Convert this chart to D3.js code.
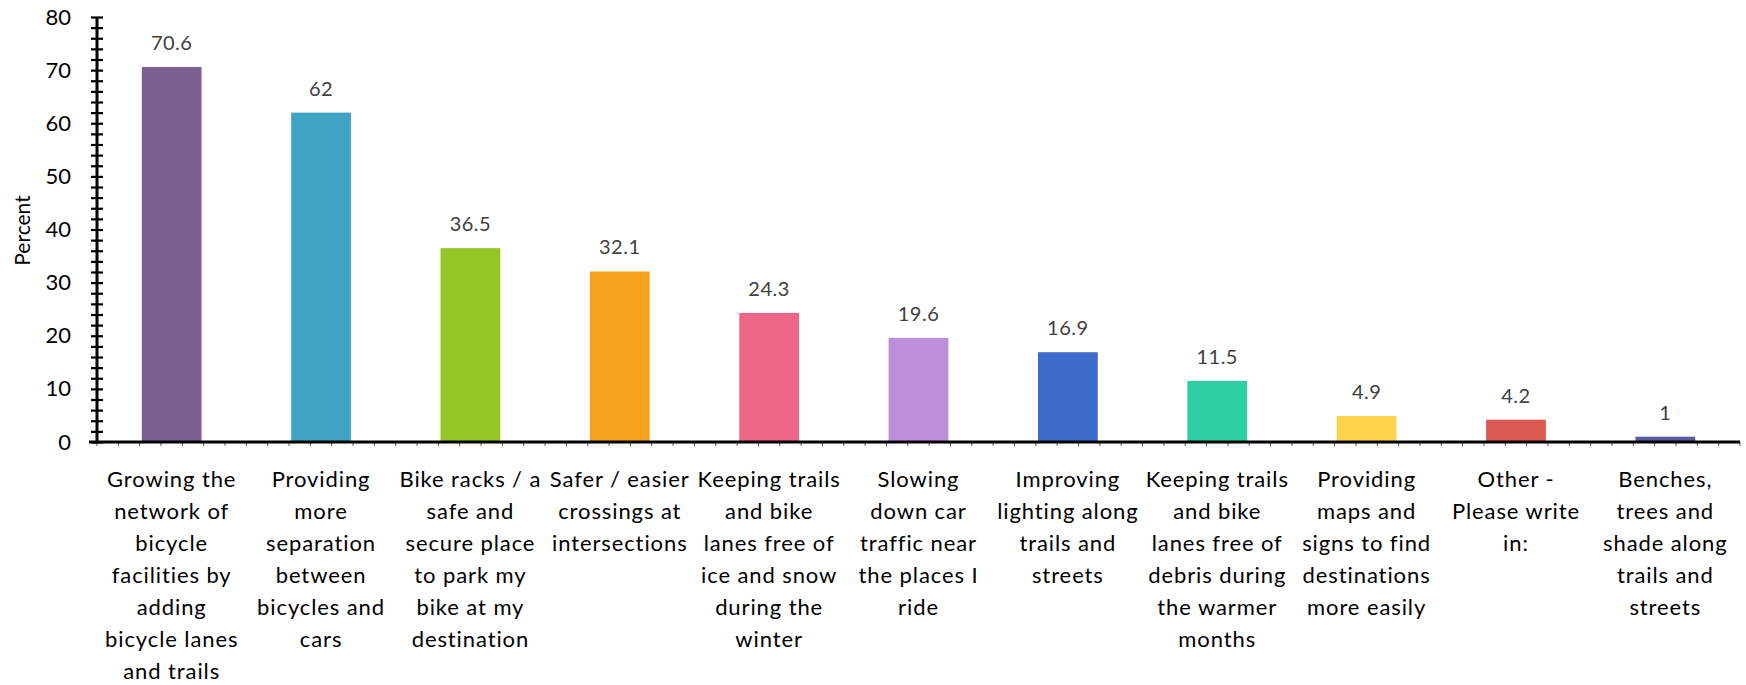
<!DOCTYPE html>
<html>
<head>
<meta charset="utf-8">
<script src="https://cdn.jsdelivr.net/npm/d3@7"></script>
<style>
  body { margin: 0; background: #fff; }
  svg { display: block; font-family: Lato, "Open Sans", sans-serif; }
</style>
</head>
<body>
<div id="chart"></div>
<script>
// data
const categories = [
    "Growing the|network of|bicycle|facilities by|adding|bicycle lanes|and trails",
    "Providing|more|separation|between|bicycles and|cars",
    "Bike racks / a|safe and|secure place|to park my|bike at my|destination",
    "Safer / easier|crossings at|intersections",
    "Keeping trails|and bike|lanes free of|ice and snow|during the|winter",
    "Slowing|down car|traffic near|the places I|ride",
    "Improving|lighting along|trails and|streets",
    "Keeping trails|and bike|lanes free of|debris during|the warmer|months",
    "Providing|maps and|signs to find|destinations|more easily",
    "Other -|Please write|in:",
    "Benches,|trees and|shade along|trails and|streets"
];
const values = [70.6, 62, 36.5, 32.1, 24.3, 19.6, 16.9, 11.5, 4.9, 4.2, 1];
const colors = ["#7b6190", "#3fa3c4", "#95c727", "#f4a21c", "#ef6585", "#bb8fda",
                "#3c6bcb", "#2bcfa3", "#fcd34a", "#dc5a52", "#5b5ea0"];
const yTicks = [0, 10, 20, 30, 40, 50, 60, 70, 80];

const width = 1746, height = 685;
const margin = {top: 17, right: 6, bottom: 243, left: 97};

const svg = d3.select("#chart")
    .append("svg")
    .attr("width", width)
    .attr("height", height);

const x = d3.scaleBand()
    .domain(d3.range(categories.length))
    .range([margin.left, width - margin.right])
    .paddingInner(0.6)
    .paddingOuter(0.3);

const y = d3.scaleLinear()
    .domain([0, 80])
    .range([height - margin.bottom, margin.top]);

// bars
svg.selectAll("rect.bar")
    .data(values)
    .enter()
    .append("rect")
    .attr("class", "bar")
    .attr("x", (_, i) => x(i))
    .attr("y", d => y(d))
    .attr("width", x.bandwidth())
    .attr("height", d => y(0) - y(d))
    .attr("fill", (_, i) => colors[i]);

// value labels
svg.selectAll("text.value")
    .data(values)
    .enter()
    .append("text")
    .attr("class", "value")
    .attr("x", (_, i) => x(i) + x.bandwidth() / 2)
    .attr("y", d => y(d) - 17)
    .attr("text-anchor", "middle")
    .attr("font-size", 20)
    .attr("letter-spacing", 0.5)
    .attr("fill", "#404040")
    .text(d => d);

// y axis with minor ticks every 2
const yMinor = d3.axisLeft(y).tickValues(d3.range(0, 81, 2)).tickSize(6).tickFormat("");
svg.append("g")
    .attr("transform", `translate(${margin.left},0)`)
    .call(yMinor)
    .call(g => g.selectAll(".tick line").attr("x2", 6).attr("x1", -6).attr("stroke-width", 2.2))
    .call(g => g.select(".domain").remove());

const yAxis = d3.axisLeft(y).tickValues(yTicks).tickSize(0).tickPadding(26);
svg.append("g")
    .attr("transform", `translate(${margin.left},0)`)
    .call(yAxis)
    .call(g => g.select(".domain").attr("stroke-width", 3).attr("d", `M0,${y(80)}V${y(0)}`))
    .call(g => g.selectAll(".tick text")
        .attr("font-family", "Lato, sans-serif")
        .attr("font-size", 22)
        .attr("fill", "#000"));

// x axis small ticks
const bandStep = x.step();
const xMinor = d3.range(0, categories.length * 7 + 1).map(k => margin.left + k * bandStep / 7);
svg.selectAll("line.xminor")
    .data(xMinor)
    .enter()
    .append("line")
    .attr("class", "xminor")
    .attr("x1", d => d)
    .attr("x2", d => d)
    .attr("y1", y(0))
    .attr("y2", y(0) + 4)
    .attr("stroke", "#555")
    .attr("stroke-width", 1);

svg.append("line")
    .attr("x1", margin.left - 8)
    .attr("x2", width - margin.right)
    .attr("y1", y(0))
    .attr("y2", y(0))
    .attr("stroke", "#000")
    .attr("stroke-width", 3);

// category labels
const labels = svg.selectAll("text.cat")
    .data(categories)
    .enter()
    .append("text")
    .attr("class", "cat")
    .attr("text-anchor", "middle")
    .attr("font-size", 22)
    .attr("letter-spacing", 0.9)
    .attr("fill", "#000")
    .attr("transform", (_, i) => `translate(${x(i) + x.bandwidth() / 2},${y(0) + 45})`);

labels.selectAll("tspan")
    .data(d => d.split("|"))
    .enter()
    .append("tspan")
    .attr("x", 0)
    .attr("y", (_, j) => j * 32)
    .text(d => d);

// y axis title
svg.append("text")
    .attr("transform", `translate(30,${(y(0) + y(80)) / 2 + 1}) rotate(-90)`)
    .attr("text-anchor", "middle")
    .attr("font-size", 21)
    .attr("fill", "#000")
    .text("Percent");
</script>
</body>
</html>
